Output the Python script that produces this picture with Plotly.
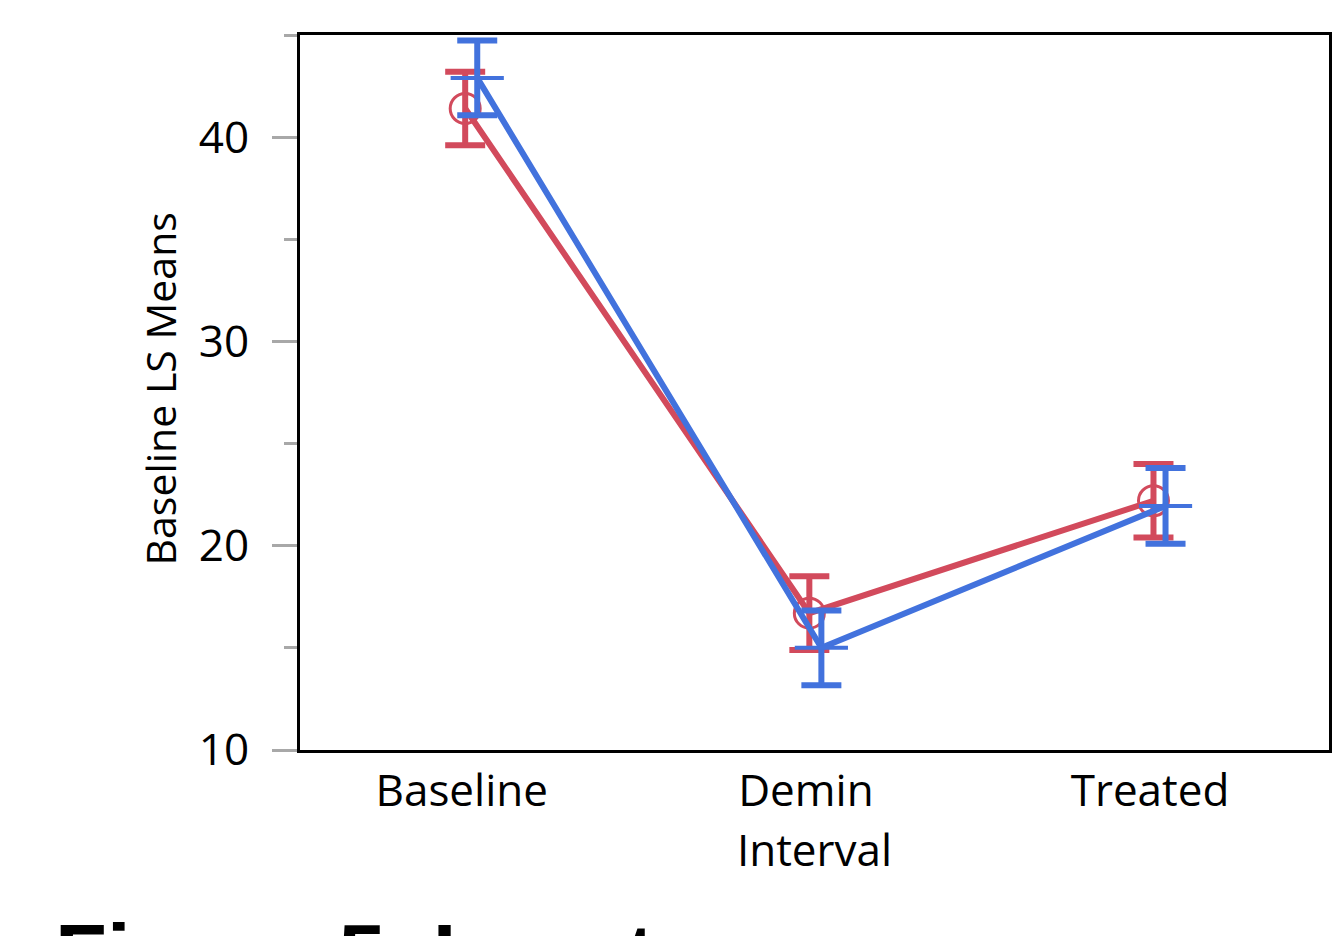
import plotly.graph_objects as go

categories = ["Baseline", "Demin", "Treated"]
cat_pos = [0, 1, 2]

red_means = [41.4, 16.7, 22.2]
red_err = [1.8, 1.8, 1.8]
blue_means = [42.9, 15.0, 21.95]
blue_err = [1.83, 1.83, 1.85]

RED = "#D24A5C"
BLUE = "#4272DD"
FONT = "Open Sans, Noto Sans, sans-serif"

fig = go.Figure()
fig.add_trace(go.Scatter(
    x=[p + 0.01 for p in cat_pos], y=red_means,
    mode="lines+markers",
    line=dict(color=RED, width=6),
    marker=dict(symbol="circle-open", size=30, color=RED, line=dict(width=3, color=RED)),
    error_y=dict(type="data", array=red_err, color=RED, thickness=6, width=20),
    showlegend=False,
))
fig.add_trace(go.Scatter(
    x=[p + 0.045 for p in cat_pos], y=blue_means,
    mode="lines+markers",
    line=dict(color=BLUE, width=6),
    marker=dict(symbol="line-ew-open", size=38, color=BLUE, line=dict(width=4, color=BLUE)),
    error_y=dict(type="data", array=blue_err, color=BLUE, thickness=6, width=20),
    showlegend=False,
))

fig.update_layout(
    width=1344, height=936,
    margin=dict(l=300, r=12, t=35, b=186),
    paper_bgcolor="white", plot_bgcolor="white",
    font=dict(family=FONT, color="black", size=44),
    xaxis=dict(
        range=[-0.47, 2.52], tickvals=cat_pos, ticktext=categories,
        showgrid=False, zeroline=False, ticks="",
        showline=True, linecolor="black", linewidth=3, mirror=True,
        tickfont=dict(size=44, family=FONT), ticklabelstandoff=0,
        title=dict(text="Interval", font=dict(size=44, family=FONT), standoff=3),
    ),
    yaxis=dict(
        range=[10, 45], tickvals=[10, 20, 30, 40],
        showgrid=False, zeroline=False,
        ticks="outside", ticklen=25, tickwidth=3, tickcolor="#A8A8A8",
        minor=dict(dtick=5, tick0=0, ticks="outside", ticklen=13, tickwidth=3, tickcolor="#A8A8A8"),
        showline=True, linecolor="black", linewidth=3, mirror=True,
        tickfont=dict(size=44, family=FONT), ticklabelstandoff=14,
    ),
    annotations=[
        dict(text="Baseline LS Means", textangle=-90, xref="paper", yref="paper",
             x=(160 - 300) / 1032, y=(750 - 389) / 715, xanchor="center", yanchor="middle",
             showarrow=False, font=dict(size=41, family=FONT, color="black")),
        dict(text="<b>Figure 5. Least squares means</b>", xref="paper", yref="paper",
             x=(52 - 300) / 1032, y=(750 - 905) / 715, xanchor="left", yanchor="top",
             showarrow=False, font=dict(size=85, family="Liberation Sans, Arial, sans-serif", color="black")),
    ],
)

fig.write_html(
    "out.html",
    config={"displayModeBar": False},
    post_script="document.body.style.margin='0';document.body.style.padding='0';document.body.style.overflow='hidden';",
)
